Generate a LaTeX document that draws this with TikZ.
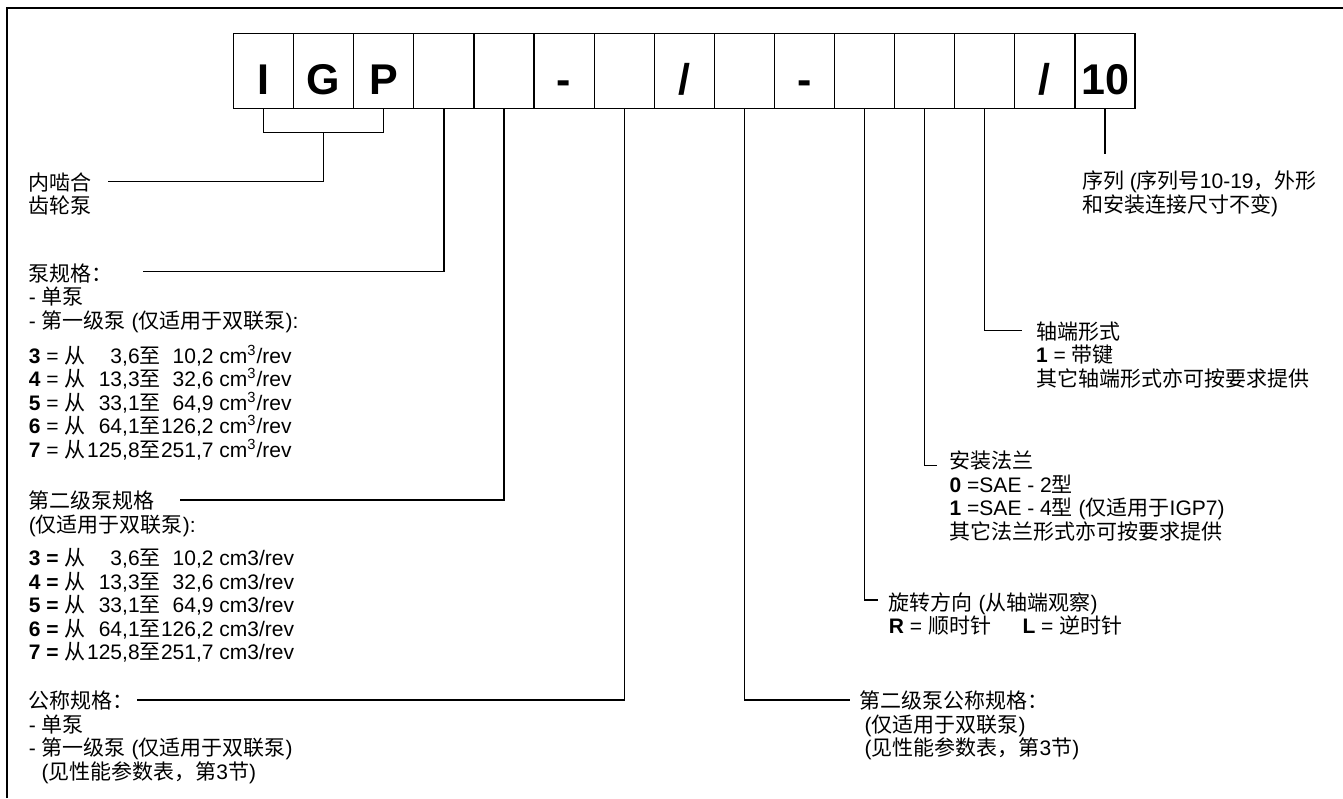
\documentclass[tikz,border=0pt]{standalone}
\usepackage{fontspec}
\setmainfont{Liberation Sans}
\newfontfamily\zhfont{Noto Sans CJK SC}
\newcommand{\zh}[1]{{\zhfont #1}}
\newcommand{\rng}[4]{#1 \zh{从}\makebox[2.58em][r]{#2}\zh{至}\makebox[2.52em][r]{#3} #4/rev}
\begin{document}
\begin{tikzpicture}[x=0.5pt, y=-0.5pt, every node/.style={inner sep=0pt}]
\useasboundingbox (0,0) rectangle (1343,798);
\draw[line width=0.9pt] (6.7,798) -- (6.7,7.6) -- (1343,7.6);

\tikzset{cell/.style={draw, line width=0.6pt, minimum width=30.05pt, minimum height=37.5pt, text height=23.2pt, text depth=0pt, font=\bfseries\fontsize{21.5}{21.5}\selectfont}}
\node[cell] (b1) at (263.6,71) {I};
\node[cell] (b2) at (323.7,71) {G};
\node[cell] (b3) at (383.8,71) {P};
\node[cell] (b4) at (443.9,71) {};
\node[cell] (b5) at (504.0,71) {};
\node[cell] (b6) at (564.1,71) {-};
\node[cell] (b7) at (624.2,71) {};
\node[cell] (b8) at (684.3,71) {/};
\node[cell] (b9) at (744.4,71) {};
\node[cell] (b10) at (804.5,71) {-};
\node[cell] (b11) at (864.6,71) {};
\node[cell] (b12) at (924.7,71) {};
\node[cell] (b13) at (984.8,71) {};
\node[cell] (b14) at (1044.9,71) {/};
\node[cell] (b15) at (1105.0,71) {10};

\tikzset{txt/.style={anchor=north west, align=left, font=\fontsize{10.5}{11.75}\selectfont}}
\node[txt] (gear) at (28.5,172.3) {\zh{内啮合}\\\zh{齿轮泵}};
\node[txt] (size) at (28.5,263.3) {\zh{泵规格：}\\- \zh{单泵}\\- \zh{第一级泵} (\zh{仅适用于双联泵}):\\[5.75pt]
  \rng{\textbf{3} =}{3,6}{10,2}{cm\textsuperscript{3}}\\
  \rng{\textbf{4} =}{13,3}{32,6}{cm\textsuperscript{3}}\\
  \rng{\textbf{5} =}{33,1}{64,9}{cm\textsuperscript{3}}\\
  \rng{\textbf{6} =}{64,1}{126,2}{cm\textsuperscript{3}}\\
  \rng{\textbf{7} =}{125,8}{251,7}{cm\textsuperscript{3}}};
\node[txt] (size2) at (28.5,490.6) {\zh{第二级泵规格}\\(\zh{仅适用于双联泵}):\\[5pt]
  \rng{\textbf{3 =}}{3,6}{10,2}{cm3}\\
  \rng{\textbf{4 =}}{13,3}{32,6}{cm3}\\
  \rng{\textbf{5 =}}{33,1}{64,9}{cm3}\\
  \rng{\textbf{6 =}}{64,1}{126,2}{cm3}\\
  \rng{\textbf{7 =}}{125,8}{251,7}{cm3}};
\node[txt] (nom) at (28.5,690.6) {\zh{公称规格：}\\- \zh{单泵}\\- \zh{第一级泵} (\zh{仅适用于双联泵})\\\hspace*{0.6em}(\zh{见性能参数表，第}3\zh{节})};
\node[txt] (series) at (1081.7,170.6) {\zh{序列} (\zh{序列号}10-19\zh{，外形}\\\zh{和安装连接尺寸不变})};
\node[txt] (shaft) at (1035.6,321.3) {\zh{轴端形式}\\\textbf{1} = \zh{带键}\\\zh{其它轴端形式亦可按要求提供}};
\node[txt] (flange) at (949.3,450.6) {\zh{安装法兰}\\\textbf{0} =SAE - 2\zh{型}\\\textbf{1} =SAE - 4\zh{型} (\zh{仅适用于}IGP7)\\\zh{其它法兰形式亦可按要求提供}};
\node[txt] (rot) at (888.5,592.3) {\zh{旋转方向} (\zh{从轴端观察})\\\textbf{R} = \zh{顺时针}\hspace{1.5em}\textbf{L} = \zh{逆时针}};
\node[txt] (nom2) at (859,690.6) {\zh{第二级泵公称规格：}\\\hspace*{0.25em}(\zh{仅适用于双联泵})\\\hspace*{0.25em}(\zh{见性能参数表，第}3\zh{节})};

\tikzset{link/.style={line width=0.6pt}}
\coordinate (gearend) at (108,181.7);
\coordinate (sizeend) at (142.7,271.7);
\coordinate (size2end) at (180,500);
\coordinate (nomend) at (136.7,700);
\coordinate (nom2end) at (849.6,700);
\coordinate (rotend) at (877.9,600);
\coordinate (flangeend) at (936.7,465.7);
\coordinate (shaftend) at (1021.6,330.7);
\coordinate (seriesend) at (1105.0,154.3);
\draw[link] (b1.south) -- ++(0,23.2) coordinate (brk) -| (b3.south);
\draw[link] (brk -| b2.south) |- (gearend);
\draw[link] (b4.south) |- (sizeend);
\draw[link] (b5.south) |- (size2end);
\draw[link] (b7.south) |- (nomend);
\draw[link] (b9.south) |- (nom2end);
\draw[link] (b11.south) |- (rotend);
\draw[link] (b12.south) |- (flangeend);
\draw[link] (b13.south) |- (shaftend);
\draw[link] (b15.south) -- (seriesend);
\end{tikzpicture}
\end{document}
